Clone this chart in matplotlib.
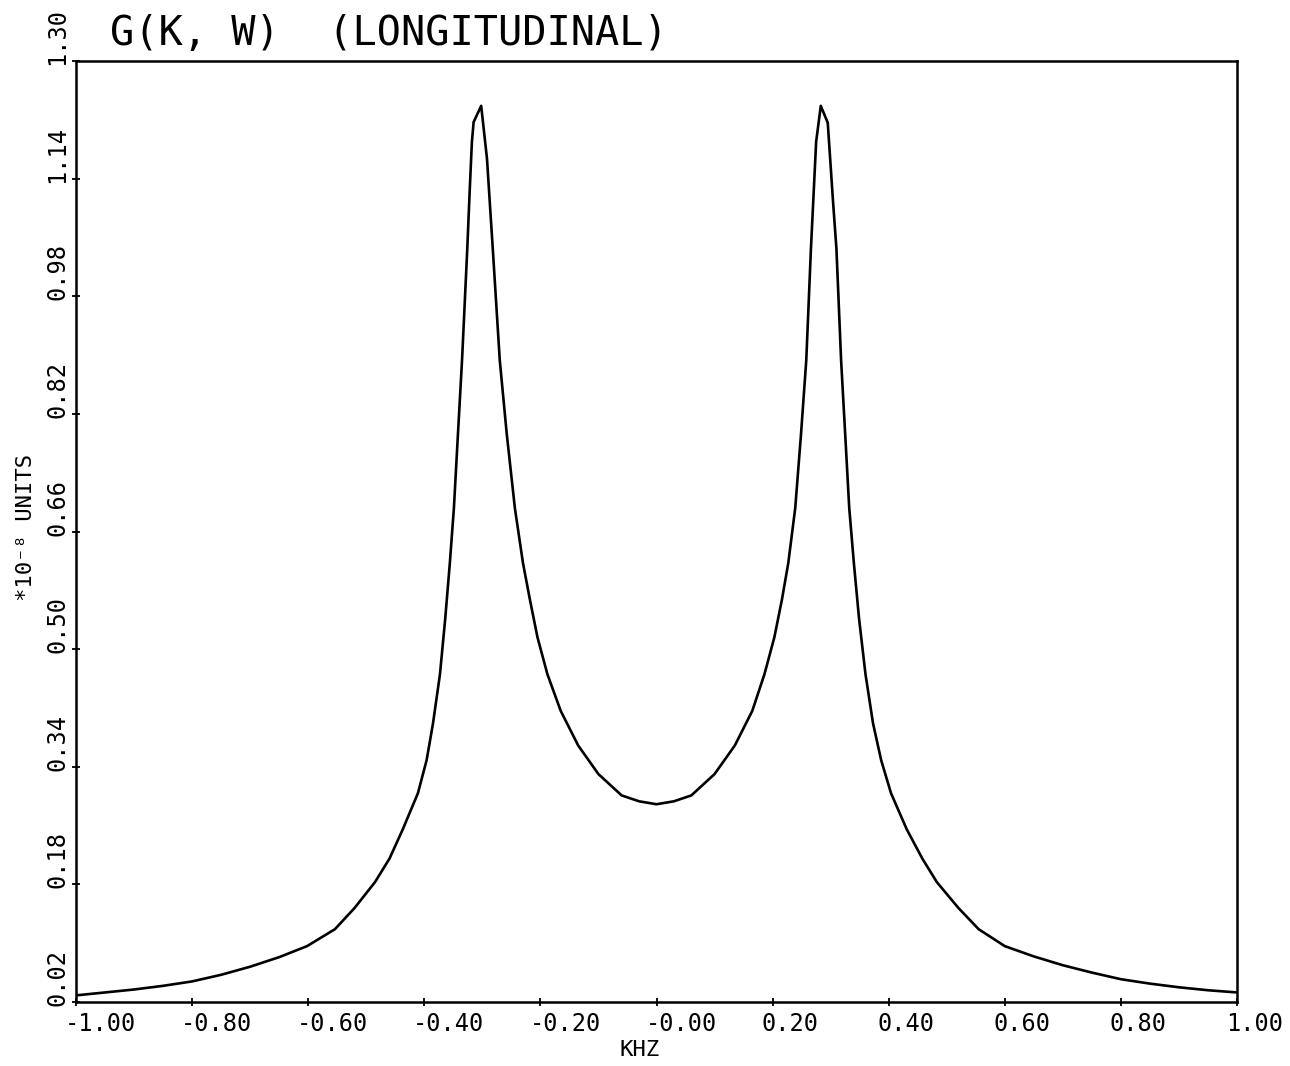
import matplotlib
matplotlib.use('Agg')
import matplotlib.pyplot as plt
import matplotlib.transforms as mtransforms

# curva (KHZ, *10^-8 unidades)
frecuencia = [-1.000, -0.950, -0.900, -0.850, -0.800, -0.750, -0.700, -0.650,
              -0.602, -0.554, -0.520, -0.485, -0.460, -0.437, -0.411, -0.396,
              -0.385, -0.373, -0.364, -0.356, -0.349, -0.342, -0.335, -0.326,
              -0.322, -0.318, -0.315, -0.302, -0.292, -0.282, -0.270, -0.258,
              -0.244, -0.230, -0.218, -0.205, -0.188, -0.165, -0.135, -0.100,
              -0.060, -0.030, 0.000, 0.030, 0.060, 0.100, 0.135, 0.165,
              0.186, 0.203, 0.216, 0.227, 0.239, 0.249, 0.258, 0.266,
              0.275, 0.283, 0.295, 0.304, 0.310, 0.318, 0.325, 0.332,
              0.340, 0.349, 0.360, 0.373, 0.387, 0.404, 0.431, 0.458,
              0.483, 0.520, 0.555, 0.600, 0.650, 0.700, 0.750, 0.800,
              0.850, 0.900, 0.950, 1.000]
g_kw = [0.029, 0.033, 0.037, 0.042, 0.048, 0.057, 0.068, 0.081,
        0.096, 0.119, 0.148, 0.183, 0.215, 0.255, 0.304, 0.349,
        0.399, 0.466, 0.541, 0.617, 0.692, 0.793, 0.893, 1.044,
        1.120, 1.190, 1.217, 1.239, 1.167, 1.044, 0.893, 0.793,
        0.692, 0.617, 0.567, 0.516, 0.466, 0.416, 0.369, 0.330,
        0.301, 0.293, 0.289, 0.293, 0.301, 0.330, 0.369, 0.416,
        0.466, 0.516, 0.567, 0.617, 0.692, 0.793, 0.893, 1.044,
        1.190, 1.239, 1.216, 1.110, 1.044, 0.893, 0.793, 0.692,
        0.617, 0.541, 0.466, 0.399, 0.349, 0.304, 0.255, 0.215,
        0.183, 0.148, 0.119, 0.096, 0.082, 0.070, 0.060, 0.051,
        0.045, 0.040, 0.036, 0.033]

xticks = [-1.0, -0.8, -0.6, -0.4, -0.2, 0.0, 0.2, 0.4, 0.6, 0.8, 1.0]
xlabels = ['-1.00', '-0.80', '-0.60', '-0.40', '-0.20', '-0.00',
           '0.20', '0.40', '0.60', '0.80', '1.00']
yticks = [0.02, 0.18, 0.34, 0.50, 0.66, 0.82, 0.98, 1.14, 1.30]
ylabels = ['0.02', '0.18', '0.34', '0.50', '0.66', '0.82', '0.98', '1.14', '1.30']

titulo = 'G(K, W)  (LONGITUDINAL)'
etiqueta_x = 'KHZ'
etiqueta_y = '*10⁻⁸ UNITS'

plt.rcParams['font.family'] = ['DejaVu Sans Mono', 'DejaVu Sans']

fig = plt.figure(figsize=(12.9, 10.66), dpi=100)
ax = fig.add_axes([76 / 1290, 1 - 1002 / 1066, (1237 - 76) / 1290, (1002 - 61) / 1066])

ax.plot(frecuencia, g_kw, color='black', linewidth=1.9)
ax.set_xlim(-1.0, 1.0)
ax.set_ylim(0.02, 1.30)

ax.set_xticks(xticks)
ax.set_xticklabels(xlabels, fontsize=17, ha='left')
ax.set_yticks(yticks)
ax.set_yticklabels(ylabels, fontsize=17, rotation=90, va='bottom')
ax.tick_params(direction='inout', length=6, width=1.3)
ax.tick_params(axis='x', pad=4)
ax.tick_params(axis='y', pad=2)

# etiquetas corridas como en el plotter
dx = mtransforms.ScaledTranslation(-11 / 100, 0, fig.dpi_scale_trans)
for t in ax.get_xticklabels():
    t.set_transform(t.get_transform() + dx)
dy = mtransforms.ScaledTranslation(0, -4 / 100, fig.dpi_scale_trans)
for t in ax.get_yticklabels():
    t.set_transform(t.get_transform() + dy)

for s in ax.spines.values():
    s.set_linewidth(1.8)

fig.text(640 / 1290, 1 - 1050 / 1066, etiqueta_x, fontsize=16, ha='center', va='center')
fig.text(26 / 1290, 1 - 527 / 1066, etiqueta_y, fontsize=16, rotation=90,
         ha='center', va='center')

fig.text(110 / 1290, 1 - 45 / 1066, titulo, fontsize=29, va='baseline', ha='left')

fig.savefig('out.png', dpi=100)
